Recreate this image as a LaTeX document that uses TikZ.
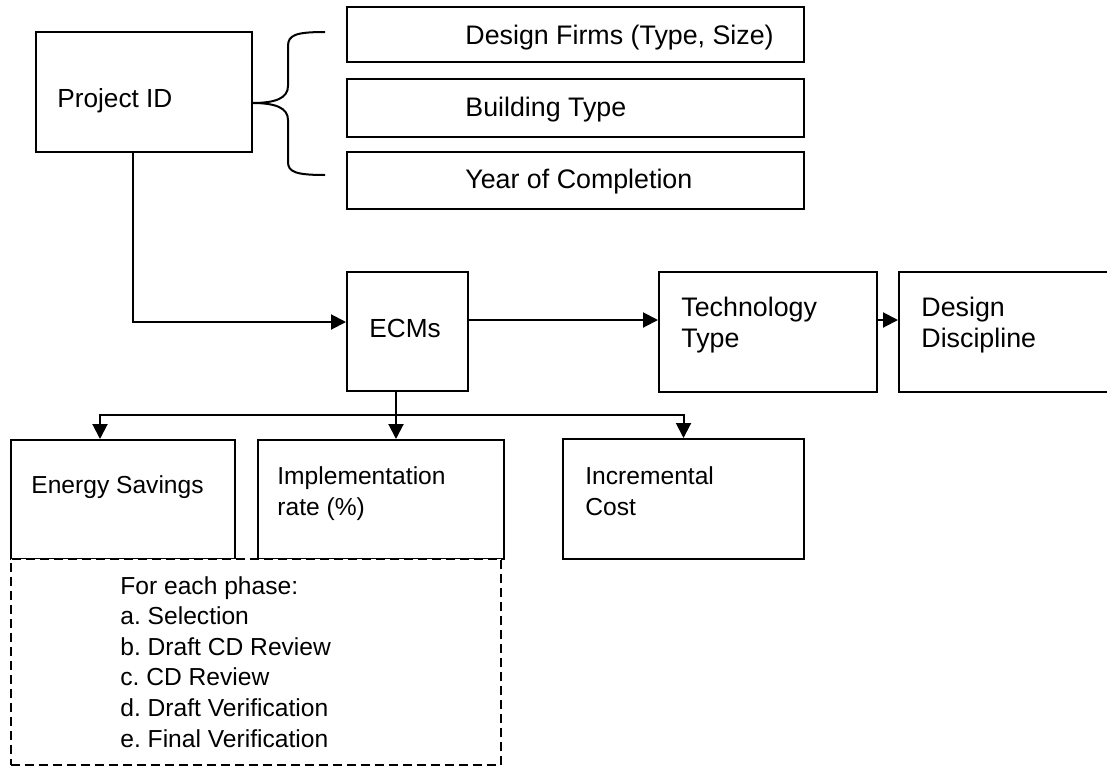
\documentclass[tikz,border=0pt]{standalone}
\usepackage{fontspec}
\setmainfont{Liberation Sans}
\usetikzlibrary{arrows.meta, positioning}

\tikzset{
  box/.style={draw, line width=1pt, inner sep=0pt, fill=white},
  phasebox/.style={draw, line width=1pt, inner sep=0pt, fill=white, dash pattern=on 4.5pt off 2.5pt},
  lbl/.style={anchor=base west, inner sep=0pt, align=left, font=\fontsize{12.3}{15.3}\selectfont},
  biglbl/.style={lbl, font=\fontsize{13.4}{15.4}\selectfont},
  midlbl/.style={lbl, font=\fontsize{13.1}{15.3}\selectfont},
  link/.style={line width=1pt},
  arr/.style={line width=1pt, -{Triangle[length=7.5pt, width=7.5pt]}},
}

\begin{document}
\frenchspacing
\begin{tikzpicture}[x=0.5pt, y=-0.5pt]
    \useasboundingbox (0,0) rectangle (1107,766);
    \clip (0,0) rectangle (1107,766);

    % Project and its attributes
    \node[box, minimum width=108pt, minimum height=60pt] (proj) at (144,92) {};
    \node[midlbl] (projtext) at (57,107) {Project ID};

    \node[box, minimum width=228.5pt, minimum height=27.5pt] (firms) at (575.5,34.5) {};
    \node[biglbl] (firmstext) at (465,44) {Design Firms (Type, Size)};

    \node[box, minimum width=228.5pt, minimum height=29pt] (btype) at (575.5,108) {};
    \node[biglbl] (btypetext) at (465,116) {Building Type};

    \node[box, minimum width=228.5pt, minimum height=28.5pt] (year) at (575.5,180.5) {};
    \node[biglbl] (yeartext) at (465,188) {Year of Completion};

    % brace
    \coordinate (tip) at (252,103);
    \draw[link] (325,32) .. controls (296,32) and (288,35) .. (288,46) -- (288,86)
        .. controls (288,98) and (276,103) .. (tip)
        .. controls (276,103) and (288,108) .. (288,120) -- (288,162)
        .. controls (288,172) and (296,175) .. (325,175);

    % ECMs row
    \node[box, minimum width=60.5pt, minimum height=59.5pt] (ecms) at (407.5,331.5) {};
    \node[midlbl] (ecmstext) at (369,337) {ECMs};

    \node[box, minimum width=109pt, minimum height=60pt] (tech) at (768,332) {};
    \node[biglbl] (techtext) at (681,347) {Technology\\Type};

    \node[box, minimum width=110.5pt, minimum height=60pt] (disc) at (1009.5,332) {};
    \node[biglbl] (disctext) at (921,347) {Design\\Discipline};

    % outcomes
    \node[box, minimum width=112pt, minimum height=59.5pt] (energy) at (123,499.5) {};
    \node[lbl] (energytext) at (31,493) {Energy Savings};

    \node[box, minimum width=123pt, minimum height=59.5pt] (impl) at (381,499.5) {};
    \node[lbl] (impltext) at (277,515) {Implementation\\rate (\%)};

    \node[box, minimum width=120.5pt, minimum height=60pt] (incr) at (683.5,499) {};
    \node[lbl] (incrtext) at (585,515) {Incremental\\Cost};

    % phases
    \node[phasebox, minimum width=245pt, minimum height=103pt] (phases) at (256,662) {};
    \node[lbl] (phasetext) at (120,747) {For each phase:\\a. Selection\\b. Draft CD Review\\c. CD Review\\d. Draft Verification\\e. Final Verification};

    % connectors
    \draw[arr] ([xshift=-5.5pt]proj.south) |- ([yshift=4.75pt]ecms.west);
    \draw[arr] ([yshift=5.75pt]ecms.east) -- ([yshift=6pt]tech.west);
    \draw[arr] ([yshift=6pt]tech.east) -- ([yshift=6pt]disc.west);

    \coordinate (split) at (396,415);
    \draw[arr] ([xshift=-5.75pt]ecms.south) -- (impl.north -| split);
    \draw[arr] (split) -| ([xshift=-11.5pt]energy.north);
    \draw[arr] (split) -| (incr.north);
\end{tikzpicture}
\end{document}
